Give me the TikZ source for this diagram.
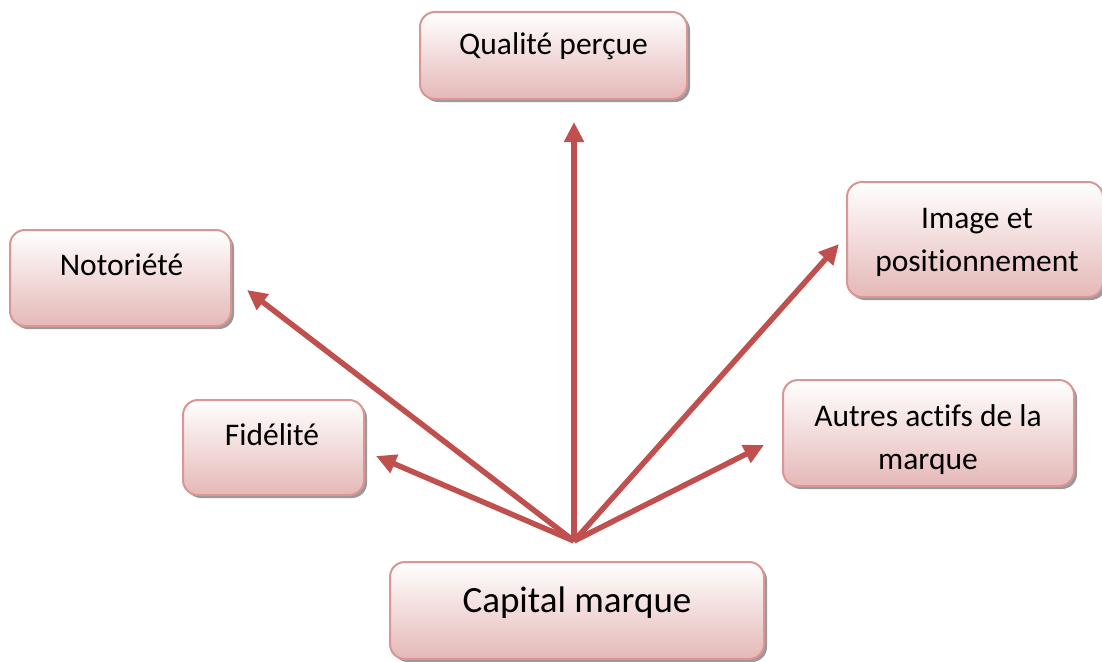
\documentclass[tikz,border=0pt]{standalone}
\usepackage{fontspec}
\setmainfont{Carlito}[Ligatures=NoCommon]
\usetikzlibrary{arrows.meta,shadows}

\definecolor{arrowred}{HTML}{C0504D}
\definecolor{boxedge}{HTML}{D99694}
\definecolor{boxlow}{HTML}{E5B8B7}

\tikzset{
  card/.style={rectangle, rounded corners=15pt, draw=boxedge, line width=2pt,
    top color=white, bottom color=boxlow, inner sep=0pt,
    drop shadow={shadow xshift=3pt, shadow yshift=-3pt, fill=black, opacity=0.4}},
  lbl/.style={anchor=base, inner sep=0pt, align=center,
    font=\fontsize{31.5}{43}\selectfont},
  biglbl/.style={anchor=base, inner sep=0pt, font=\fontsize{37}{44}\selectfont},
  link/.style={draw=arrowred, line width=5.5pt,
    -{Triangle[length=20pt, width=19pt]}}
}

\begin{document}
\begin{tikzpicture}[x=1pt, y=-1pt]
\useasboundingbox (0,0) rectangle (1102,661);

% boxes
\node[card, minimum width=267pt, minimum height=87pt] (qual) at (553.5,55.5) {};
\node[card, minimum width=221pt, minimum height=96pt] (noto) at (120.5,278) {};
\node[card, minimum width=181pt, minimum height=95pt] (fide) at (273.5,447.5) {};
\node[card, minimum width=291pt, minimum height=106pt] (autr) at (928.5,433) {};
\node[card, minimum width=256pt, minimum height=115pt] (imag) at (975,239.5) {};
\node[card, minimum width=374pt, minimum height=97pt] (capi) at (577,610.5) {};

% labels (two-line labels are placed by the baseline of their last line)
\node[lbl] (qual-t) at (553.5,55) {Qualité perçue};
\node[lbl] (noto-t) at (121.5,275) {Notoriété};
\node[lbl] (fide-t) at (272,445) {Fidélité};
\node[lbl] (imag-t) at (977,271) {Image et\\positionnement};
\node[lbl] (autr-t) at (928,469) {Autres actifs de la\\marque};
\node[biglbl] (capi-t) at (577,612) {Capital marque};

% arrows from the common origin
\coordinate (o) at (574,541);
\coordinate (tq) at (574,122);
\coordinate (tn) at (247,290);
\coordinate (tf) at (376,456);
\coordinate (ta) at (764,445);
\coordinate (ti) at (839,244);

\draw[link] (o) -- (tq);
\draw[link] (o) -- (tn);
\draw[link] (o) -- (tf);
\draw[link] (o) -- (ta);
\draw[link] (o) -- (ti);
\end{tikzpicture}
\end{document}
